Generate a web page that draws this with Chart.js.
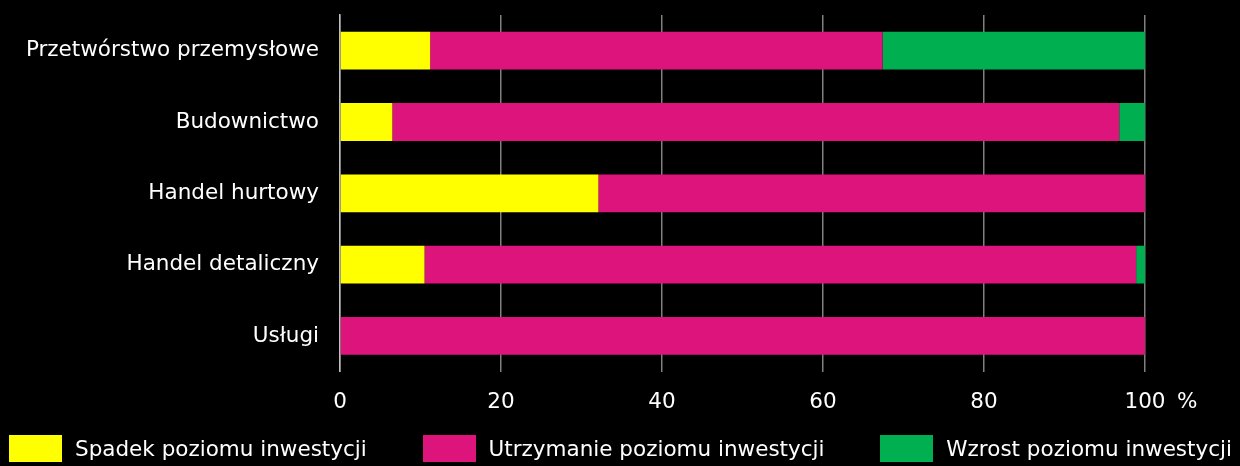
<!DOCTYPE html>
<html>
<head>
<meta charset="utf-8">
<script src="https://cdn.jsdelivr.net/npm/chart.js@4/dist/chart.umd.min.js"></script>
<style>
html,body{margin:0;padding:0;background:#000;}
#wrap{width:1240px;height:466px;position:relative;overflow:hidden;}
#legend{position:absolute;left:9px;right:8px;top:435px;height:27px;display:flex;justify-content:space-between;align-items:center;font-family:'DejaVu Sans',sans-serif;font-size:21.5px;color:#fff;}
#legend .item{display:flex;align-items:center;white-space:nowrap;}
#legend .box{width:53px;height:27px;margin-right:13px;}
</style>
</head>
<body>
<div id="wrap"><canvas id="c" width="1240" height="466"></canvas><div id="legend"></div></div>
<script>
const categories = ["Przetwórstwo przemysłowe", "Budownictwo", "Handel hurtowy", "Handel detaliczny", "Usługi"];
const spadek = [11.2, 6.5, 32.1, 10.5, 0];
const utrzymanie = [56.2, 90.3, 67.9, 88.4, 100];
const wzrost = [32.6, 3.2, 0, 1.1, 0];
const seriesNames = ["Spadek poziomu inwestycji", "Utrzymanie poziomu inwestycji", "Wzrost poziomu inwestycji"];
const seriesColors = ["#ffff00", "#de147d", "#00b050"];
const xTicks = [0, 20, 40, 60, 80, 100];
const unitLabel = "%";

const FONT = "'DejaVu Sans', sans-serif";
const FS = 21.5;

const pctPlugin = {
  id: 'pct',
  afterDraw(chart) {
    const ctx = chart.ctx;
    const xs = chart.scales.x;
    const x = xs.getPixelForValue(100);
    ctx.save();
    ctx.fillStyle = '#fff';
    ctx.font = FS + "px " + FONT;
    ctx.textBaseline = 'middle';
    ctx.textAlign = 'left';
    ctx.fillText(unitLabel, x + 32, chart.chartArea.bottom + 31);
    ctx.restore();
  }
};

const chart = new Chart(document.getElementById('c'), {
  type: 'bar',
  data: {
    labels: categories,
    datasets: [
      {label: seriesNames[0], data: spadek, backgroundColor: seriesColors[0]},
      {label: seriesNames[1], data: utrzymanie, backgroundColor: seriesColors[1]},
      {label: seriesNames[2], data: wzrost, backgroundColor: seriesColors[2]}
    ]
  },
  options: {
    indexAxis: 'y',
    responsive: false,
    animation: false,
    maintainAspectRatio: false,
    categoryPercentage: 0.53,
    barPercentage: 1.0,
    layout: {padding: {left: 0, right: 95, top: 15, bottom: 50}},
    scales: {
      x: {
        stacked: true,
        min: 0, max: 100,
        afterBuildTicks(s) { s.ticks = xTicks.map(v => ({value: v})); },
        afterFit(s) { s.height = 44.4; },
        ticks: {color: '#fff', font: {family: FONT, size: FS}, padding: 18},
        grid: {color: '#808080', lineWidth: 1.5, drawTicks: false},
        border: {display: false}
      },
      y: {
        stacked: true,
        afterFit(s) { s.width = 340; s.paddingTop = 0; s.paddingBottom = 0; },
        ticks: {color: '#fff', font: {family: FONT, size: FS}, padding: 21},
        grid: {display: false, drawTicks: false},
        border: {display: true, color: '#c0c0c0', width: 1.5}
      }
    },
    plugins: {
      legend: {display: false},
      tooltip: {enabled: false}
    }
  },
  plugins: [pctPlugin]
});

const leg = document.getElementById('legend');
chart.data.datasets.forEach(ds => {
  const it = document.createElement('div');
  it.className = 'item';
  const b = document.createElement('div');
  b.className = 'box';
  b.style.background = ds.backgroundColor;
  const t = document.createElement('span');
  t.textContent = ds.label;
  it.appendChild(b); it.appendChild(t);
  leg.appendChild(it);
});
</script>
</body>
</html>
